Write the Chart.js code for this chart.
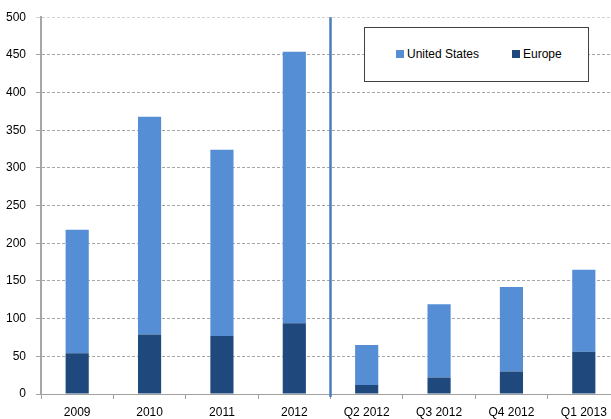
<!DOCTYPE html>
<html>
<head>
<meta charset="utf-8">
<script src="https://cdn.jsdelivr.net/npm/chart.js@4/dist/chart.umd.min.js"></script>
<style>
html,body{margin:0;padding:0;background:#fff;overflow:hidden;width:611px;height:419px;}
#wrap{position:relative;width:620px;height:419px;}
#legend{position:absolute;left:364px;top:27px;width:223px;height:53px;border:1px solid #404040;background:#fff;font-family:"Liberation Sans",Arial,sans-serif;font-size:12px;color:#000;}
.li{position:absolute;top:19px;line-height:14px;white-space:nowrap;}
.sw{display:inline-block;width:8px;height:8px;margin-right:3px;vertical-align:0px;}
</style>
</head>
<body>
<div id="wrap">
<canvas id="c" width="620" height="419"></canvas>
<div id="legend">
  <div class="li" style="left:31px"><span class="sw" style="background:#558ed5"></span>United States</div>
  <div class="li" style="left:147px"><span class="sw" style="background:#1f497d"></span>Europe</div>
</div>
</div>
<script>
const categories = ["2009","2010","2011","2012","Q2 2012","Q3 2012","Q4 2012","Q1 2013"];
const europe = [54, 79, 77, 94, 12, 22, 30, 56];
const unitedStates = [164, 289, 247, 360, 53, 97, 112, 109];
const yTicks = [0,50,100,150,200,250,300,350,400,450,500];

const separator = {
  id: 'separator',
  afterDatasetsDraw(chart) {
    const x = chart.scales.x, ca = chart.chartArea, ctx = chart.ctx;
    const px = (x.getPixelForValue(3) + x.getPixelForValue(4)) / 2;
    ctx.save();
    ctx.strokeStyle = '#4a7ebb';
    ctx.lineWidth = 2.5;
    ctx.beginPath();
    ctx.moveTo(px, ca.top);
    ctx.lineTo(px, ca.bottom + 3);
    ctx.stroke();
    ctx.restore();
  }
};

new Chart(document.getElementById('c'), {
  type: 'bar',
  data: {
    labels: categories,
    datasets: [
      {label: 'Europe', data: europe, backgroundColor: '#1f497d', categoryPercentage: 1, barPercentage: 0.32},
      {label: 'United States', data: unitedStates, backgroundColor: '#558ed5', categoryPercentage: 1, barPercentage: 0.32}
    ]
  },
  options: {
    responsive: false,
    animation: false,
    layout: {padding: {top: 16, right: 0, left: 0, bottom: 0}},
    plugins: {legend: {display: false}, tooltip: {enabled: false}},
    scales: {
      x: {
        stacked: true,
        afterFit(s) { s.height = 25; },
        grid: {display: true, drawOnChartArea: false, drawTicks: true, tickLength: 5, color: '#a0a0a0', offset: true},
        border: {display: true, color: '#a0a0a0', width: 1},
        ticks: {color: '#000', font: {family: '"Liberation Sans", Arial, sans-serif', size: 12}, padding: 6, maxRotation: 0, autoSkip: false}
      },
      y: {
        stacked: true,
        min: 0, max: 500,
        afterFit(s) { s.width = 41; },
        afterBuildTicks(s) { s.ticks = yTicks.map(v => ({value: v})); },
        grid: {
          color: (c) => (c.tick && c.tick.value === 500) ? '#d4d4d4' : '#a6a6a6',
          drawTicks: true, tickLength: 5, lineWidth: 1
        },
        border: {display: true, color: '#a6a6a6', width: 2, dash: [3, 2]},
        ticks: {color: '#000', font: {family: '"Liberation Sans", Arial, sans-serif', size: 12}, padding: 10}
      }
    }
  },
  plugins: [separator]
});
</script>
</body>
</html>
